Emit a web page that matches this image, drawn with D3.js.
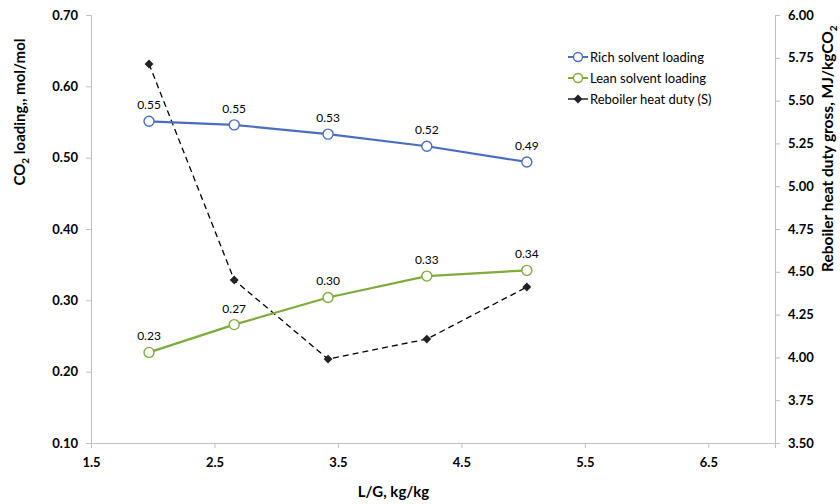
<!DOCTYPE html>
<html>
<head>
<meta charset="utf-8">
<script src="https://cdn.jsdelivr.net/npm/d3@7"></script>
<style>
  body { margin: 0; background: #fff; }
  text { font-family: Lato, "Open Sans", sans-serif; fill: #000; }
  .axis path, .axis line { stroke: #bfbfbf; }
  .axis text { font-size: 13px; font-weight: bold; }
</style>
</head>
<body>
<svg id="chart"></svg>
<script>
// L/G ratio, kg/kg
const lgRatio = [1.97, 2.66, 3.42, 4.22, 5.03];
// CO2 loading, mol/mol
const richLoading = [0.551, 0.546, 0.533, 0.516, 0.494];
const leanLoading = [0.227, 0.266, 0.304, 0.334, 0.342];
// reboiler heat duty, MJ/kgCO2
const reboilerDuty = [5.714, 4.452, 3.99, 4.107, 4.411];

const xTicks = [1.5, 2.5, 3.5, 4.5, 5.5, 6.5];
const yLeftTicks = [0.1, 0.2, 0.3, 0.4, 0.5, 0.6, 0.7];
const yRightTicks = [3.5, 3.75, 4.0, 4.25, 4.5, 4.75, 5.0, 5.25, 5.5, 5.75, 6.0];
const seriesNames = ["Rich solvent loading", "Lean solvent loading", "Reboiler heat duty (S)"];

const svgWidth = 840, svgHeight = 504;
const margin = { top: 15, right: 65, bottom: 61, left: 91 };
const width = svgWidth - margin.left - margin.right;
const height = svgHeight - margin.top - margin.bottom;

const svg = d3.select("#chart").attr("width", svgWidth).attr("height", svgHeight);
const g = svg.append("g").attr("transform", `translate(${margin.left},${margin.top})`);

const x = d3.scaleLinear().domain([1.5, 7.04]).range([0, width]);
const yL = d3.scaleLinear().domain([0.1, 0.7]).range([height, 0]);
const yR = d3.scaleLinear().domain([3.5, 6.0]).range([height, 0]);

// axes
g.append("g").attr("class", "axis")
  .attr("transform", `translate(0,${height})`)
  .call(d3.axisBottom(x).tickValues(xTicks).tickFormat(d3.format(".1f")).tickSizeOuter(0).tickSize(5).tickPadding(10));

g.append("g").attr("class", "axis")
  .call(d3.axisLeft(yL).tickValues(yLeftTicks).tickFormat(d3.format(".2f")).tickSizeOuter(0).tickSize(5).tickPadding(8));

g.append("g").attr("class", "axis")
  .attr("transform", `translate(${width},0)`)
  .call(d3.axisRight(yR).tickValues(yRightTicks).tickFormat(d3.format(".2f")).tickSizeOuter(0).tickSize(5).tickPadding(8));

// axis titles
svg.append("text")
  .attr("transform", `translate(25,112) rotate(-90)`)
  .attr("text-anchor", "middle")
  .style("font-size", "15px").style("font-weight", "bold")
  .html('CO<tspan dy="4" font-size="10px">2</tspan><tspan dy="-4"> loading,, mol/mol</tspan>');

svg.append("text")
  .attr("transform", `translate(833,272) rotate(-90)`)
  .attr("text-anchor", "start")
  .style("font-size", "15.5px").style("font-weight", "bold")
  .html('Reboiler heat duty gross, MJ/kgCO<tspan dy="4" font-size="10px">2</tspan>');

svg.append("text")
  .attr("x", margin.left + x(3.95)).attr("y", 497)
  .attr("text-anchor", "middle")
  .style("font-size", "15px").style("font-weight", "bold")
  .text("L/G, kg/kg");

const richColor = "#4a6ebd", leanColor = "#7eab3b";

// reboiler heat duty (dashed, diamonds)
const lineR = d3.line().x((d, i) => x(lgRatio[i])).y(d => yR(d));
g.append("path").datum(reboilerDuty)
  .attr("d", lineR).attr("fill", "none")
  .attr("stroke", "#000").attr("stroke-width", 1.3).attr("stroke-dasharray", "6 4");
g.selectAll(".diamond").data(reboilerDuty).enter().append("path")
  .attr("class", "diamond")
  .attr("d", d3.symbol(d3.symbolDiamond2, 50)())
  .attr("transform", (d, i) => `translate(${x(lgRatio[i])},${yR(d)})`)
  .attr("fill", "#222");

// loading lines
function drawLoading(data, color) {
  const line = d3.line().x((d, i) => x(lgRatio[i])).y(d => yL(d));
  g.append("path").datum(data)
    .attr("d", line).attr("fill", "none")
    .attr("stroke", color).attr("stroke-width", 2.2);
  g.selectAll(null).data(data).enter().append("circle")
    .attr("cx", (d, i) => x(lgRatio[i])).attr("cy", d => yL(d))
    .attr("r", 5).attr("fill", "#fff").attr("stroke", color).attr("stroke-width", 1.4);
  g.selectAll(null).data(data).enter().append("text")
    .attr("x", (d, i) => x(lgRatio[i])).attr("y", d => yL(d) - 12)
    .attr("text-anchor", "middle")
    .style("font-size", "12px")
    .text(d => d3.format(".2f")(d));
}
drawLoading(richLoading, richColor);
drawLoading(leanLoading, leanColor);

// legend
const legend = svg.append("g").attr("transform", "translate(568,57)");
const legendColors = [richColor, leanColor, "#000"];
seriesNames.forEach((name, i) => {
  const row = legend.append("g").attr("transform", `translate(0,${i * 21})`);
  row.append("line").attr("x1", 0).attr("x2", 20).attr("y1", 0).attr("y2", 0)
    .attr("stroke", legendColors[i]).attr("stroke-width", i === 2 ? 1.3 : 2);
  if (i < 2) {
    row.append("circle").attr("cx", 10).attr("cy", 0).attr("r", 4.5)
      .attr("fill", "#fff").attr("stroke", legendColors[i]).attr("stroke-width", 1.4);
  } else {
    row.append("path").attr("d", d3.symbol(d3.symbolDiamond2, 50)())
      .attr("transform", "translate(10,0)").attr("fill", "#222");
  }
  row.append("text").attr("x", 22).attr("y", 5)
    .style("font-size", "13px").text(name);
});
</script>
</body>
</html>
